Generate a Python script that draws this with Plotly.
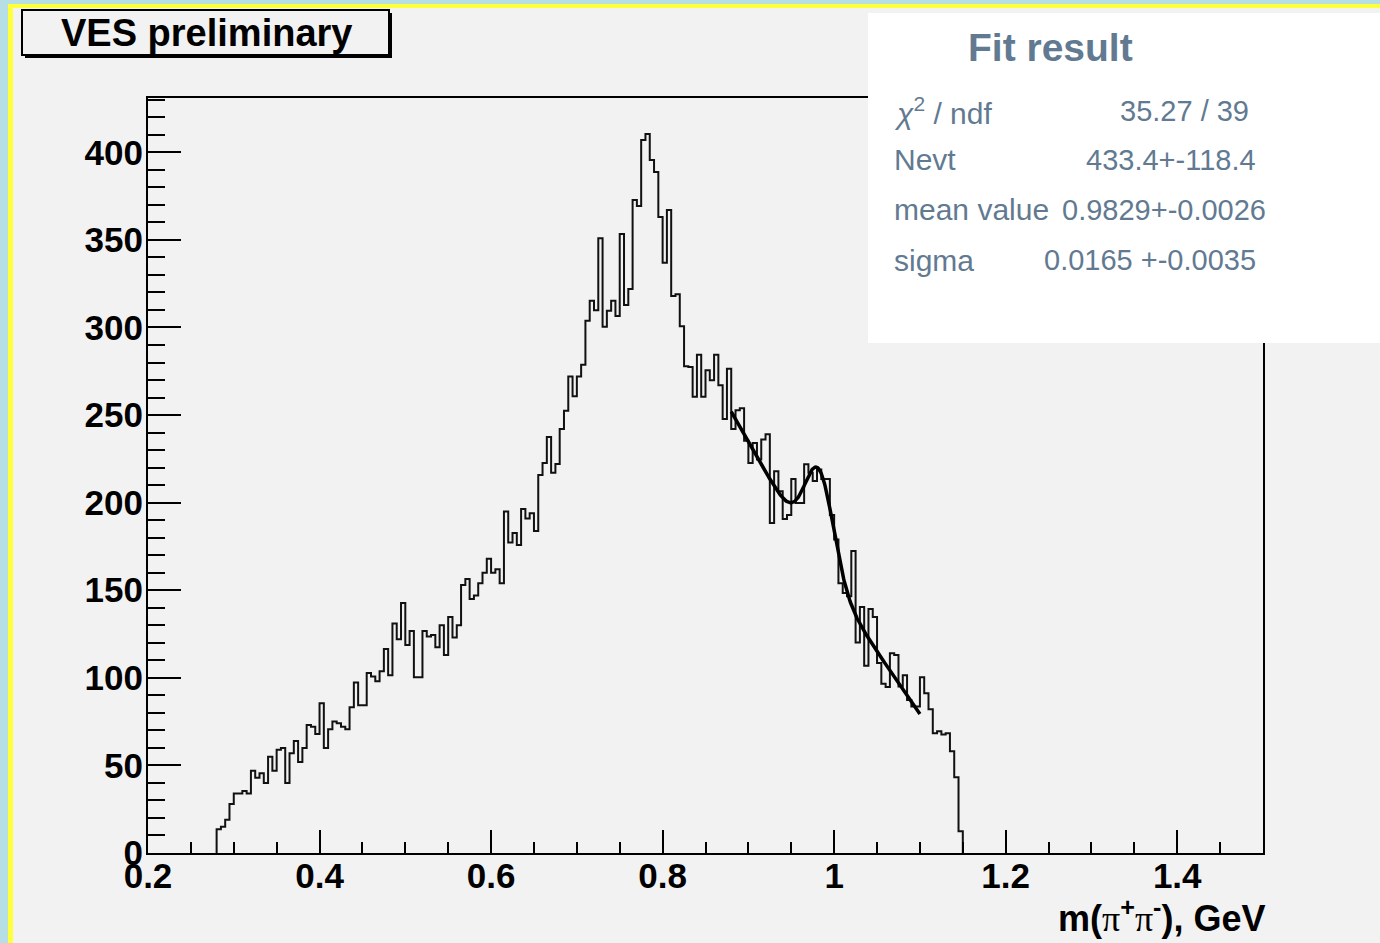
import numpy as np
import plotly.graph_objects as go

# ---------------- data ----------------
bin_lo = 0.28
bin_width = 0.005
counts = [
    13.5, 15, 19, 28, 34, 34, 35.4, 34, 47, 43,
    45.5, 40, 55, 47, 59, 60, 40, 57, 64, 52,
    60, 73, 72, 68, 85.5, 60, 70.7, 75, 74, 72,
    70.7, 83.2, 97.3, 84.4, 84.4, 102.7, 100.8, 98, 103.8, 116.4,
    101.5, 131, 122, 142.7, 118.7, 126.7, 100.4, 100.4, 126.7, 123.6,
    124.4, 117.5, 130, 113, 134.7, 123, 130, 153, 156.4, 145,
    147, 154, 160, 168, 160, 162, 154, 195, 177.3, 182.7,
    175.8, 196.4, 191, 194, 183.8, 215.8, 222.7, 237.5, 217, 222,
    242, 252.4, 272, 260.7, 272, 278.7, 303.8, 315.3, 309.9, 351,
    300.4, 309.5, 315.3, 306.5, 353.3, 312.9, 322, 372.8, 369.3, 407,
    410.5, 395.6, 388.7, 363, 337, 367, 318, 319, 300.7, 277.9,
    277.5, 260.4, 284.4, 260.4, 275.6, 269.9, 284.4, 267, 247.8, 276.4,
    242, 252.7, 253.9, 235.4, 222.7, 234, 224.6, 236, 239, 188.4,
    217.9, 206.5, 190.7, 193, 213.5, 199.8, 199.8, 221.9, 217, 212.4,
    218.9, 213.5, 213.5, 193, 178.9, 154, 148.4, 146.5, 172.4, 120.2,
    140.4, 106.9, 139.3, 134.7, 108.4, 96.6, 94.7, 114.1, 113, 95,
    101.5, 87.4, 83.6, 83.6, 100.4, 91.2, 82, 68.4, 69.5, 67.6,
    68.4, 58.1, 43.2, 12.4,
]

# fit result (gaussian signal + quadratic background)
fit_nevt = 433.4
fit_mean = 0.9829
fit_sigma = 0.0165
fit_range = [0.88, 1.10]
bg_c0 = 152.9     # background at m = 1 GeV
bg_c1 = -776.3    # linear term (per GeV)
bg_c2 = 410.0     # quadratic term (per GeV^2)

x_tick_vals = [0.2, 0.4, 0.6, 0.8, 1.0, 1.2, 1.4]
x_tick_text = ["0.2", "0.4", "0.6", "0.8", "1", "1.2", "1.4"]
y_tick_vals = [0, 50, 100, 150, 200, 250, 300, 350, 400]

stats_title = "Fit result"
stats_labels = ["<i>χ</i><sup>2</sup> / ndf", "Nevt", "mean value", "sigma"]
stats_values = ["35.27 / 39", "433.4+-118.4", "0.9829+-0.0026", "0.0165 +-0.0035"]

# ---------------- build ----------------
edges = bin_lo + bin_width * np.arange(len(counts) + 1)
hx = [edges[0]] + list(edges[:-1]) + [edges[-1], edges[-1]]
hy = [0] + list(counts) + [counts[-1], 0]

xf = np.linspace(fit_range[0], fit_range[1], 300)
amp = fit_nevt * bin_width / (np.sqrt(2 * np.pi) * fit_sigma)
t = xf - 1.0
yf = bg_c0 + bg_c1 * t + bg_c2 * t ** 2 + amp * np.exp(-(xf - fit_mean) ** 2 / (2 * fit_sigma ** 2))

W, H = 1380, 943
L, R, T, B = 148, 1263, 98, 853


def px(x):
    return (x - L) / (R - L)


def py(y):
    return (B - y) / (B - T)


BG = "#f2f2f2"
STAT = "#627a91"
FONT = "Liberation Sans"

fig = go.Figure()
fig.add_trace(go.Scatter(x=hx, y=hy, mode="lines", line=dict(shape="hv", color="#111111", width=2),
                         hoverinfo="skip", showlegend=False))
fig.add_trace(go.Scatter(x=xf, y=yf, mode="lines", line=dict(color="#000000", width=3.5),
                         hoverinfo="skip", showlegend=False))

shapes = []


def rect(x0, y0, x1, y1, fill, line=None, lw=0, layer="above"):
    shapes.append(dict(type="rect", xref="paper", yref="paper",
                       x0=px(x0), x1=px(x1), y0=py(y1), y1=py(y0),
                       fillcolor=fill, line=dict(color=line or fill, width=lw), layer=layer))


# frame borders of the slide
rect(0, 0, 8, H, "#b5dfe5")
rect(8, 0, 13, H, "#ffff3c")
rect(0, 0, W, 4, "#b5dfe5")
rect(8, 4, W, 8, "#ffff3c")
# VES preliminary box with shadow
rect(25, 13, 392, 58, "#000000")
rect(22, 10, 389, 55, BG, "#000000", 2)
# stats box
rect(868, 13, W + 5, 343, "#ffffff")

annotations = []


def text(x, y, s, size, color, anchor="left", bold=False, family=FONT):
    annotations.append(dict(xref="paper", yref="paper", x=px(x), y=py(y), text=s, showarrow=False,
                            xanchor=anchor, yanchor="middle",
                            font=dict(family=family, size=size, color=color,
                                      weight="bold" if bold else "normal")))


text(206, 33, "VES preliminary", 38, "#000000", "center", True)
text(1050, 47, stats_title, 39, STAT, "center", True)
row_y = [111, 160, 210, 260]
val_right = [1251, 1258, 1268, 1258]
for lab, val, yy, vx in zip(stats_labels, stats_values, row_y, val_right):
    text(892, yy, lab, 30, STAT, "left")
    text(vx, yy, val, 29, STAT, "right")

text(1268, 916,
     "m(<span style='font-family:Liberation Serif;font-weight:normal'>π</span><sup>+</sup>"
     "<span style='font-family:Liberation Serif;font-weight:normal'>π</span><sup>-</sup>), GeV",
     36, "#000000", "right", True)

axis_common = dict(showline=True, linecolor="#000000", linewidth=2, mirror=True,
                   ticks="inside", tickcolor="#000000", tickwidth=2,
                   showgrid=False, zeroline=False,
                   tickfont=dict(family=FONT, size=35, color="#000000", weight="bold"))

fig.update_layout(
    width=W, height=H,
    margin=dict(l=L, r=W - R, t=T, b=H - B, pad=0),
    paper_bgcolor=BG, plot_bgcolor=BG,
    xaxis=dict(range=[0.2, 1.5], tickmode="array", tickvals=x_tick_vals, ticktext=x_tick_text,
               ticklen=23, ticklabelstandoff=-9,
               minor=dict(tickmode="linear", tick0=0.2, dtick=0.05, ticks="inside", ticklen=11,
                          tickcolor="#000000", tickwidth=1.5, showgrid=False),
               **axis_common),
    yaxis=dict(range=[0, 431], tickmode="array", tickvals=y_tick_vals, ticklen=33,
               ticklabelstandoff=-4,
               minor=dict(tickmode="linear", tick0=0, dtick=10, ticks="inside", ticklen=17,
                          tickcolor="#000000", tickwidth=1.5, showgrid=False),
               **axis_common),
    shapes=shapes,
    annotations=annotations,
    showlegend=False,
)

fig.write_html("out.html")
